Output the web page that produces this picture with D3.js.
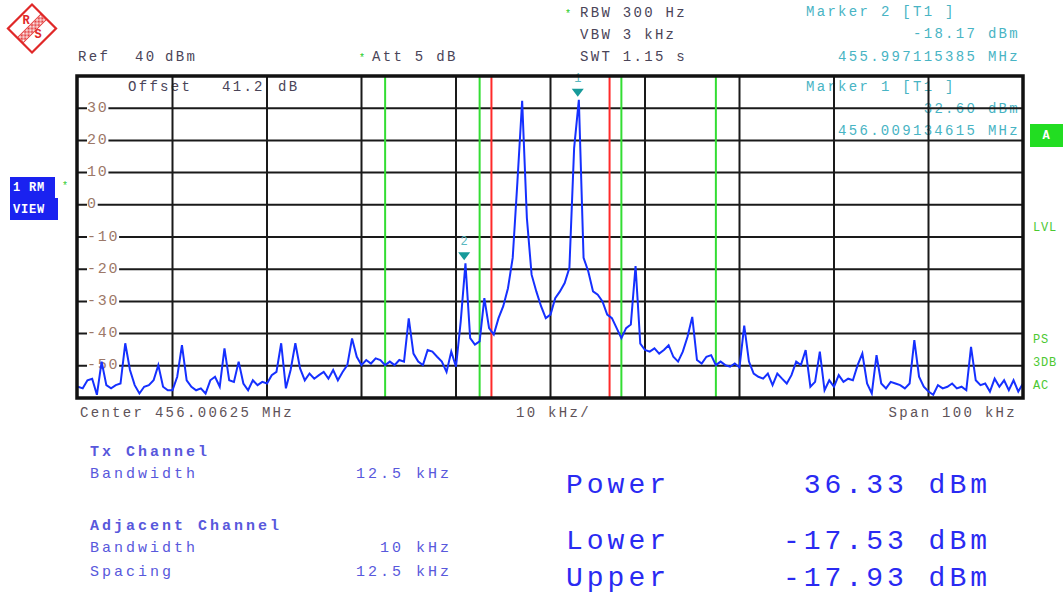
<!DOCTYPE html>
<html>
<head>
<meta charset="utf-8">
<script src="https://cdn.jsdelivr.net/npm/d3@7/dist/d3.min.js"></script>
<style>
  html, body { margin: 0; padding: 0; background: #fff; }
  svg { display: block; }
  text { font-family: "Liberation Mono", "DejaVu Sans Mono", monospace; }
</style>
</head>
<body>
<svg id="chart" width="1063" height="594"></svg>
<script>
// ---- Instrument settings ----
const centerMHz = 456.00625;
const spanKHz = 100;
const refLevel = 40;          // dBm, top of screen
const bottomLevel = -60;      // dBm, bottom of screen
const traceStepKHz = 0.5;     // spacing of trace points

// Channel power setup (kHz)
const txBandwidth = 12.5;
const adjBandwidth = 10;
const adjSpacing = 12.5;

// Level axis labels (dBm)
const yTickValues = [30, 20, 10, 0, -10, -20, -30, -40, -50];

// Trace 1, dBm, from center - 50 kHz to center + 50 kHz
const traceDbm = [
  -56.5, -57, -54.5, -54, -59, -48.7, -56, -57, -56, -55.5,
  -43, -51.3, -56, -58.6, -56.5, -56, -54.5, -49.8, -56.5, -57.6,
  -57.6, -53.4, -43.6, -54.5, -56.5, -57.6, -57, -58.6, -54.5, -53.4,
  -56.5, -44.6, -54.5, -55, -48.7, -55.5, -57.6, -54.5, -56, -55,
  -55.5, -52.9, -51.9, -43, -57, -51.3, -43, -50.8, -54.5, -52.4,
  -54, -52.9, -51.9, -54, -51.3, -54.5, -51.9, -49.8, -41.5, -47.2,
  -49.8, -48.2, -49.3, -47.7, -48.2, -49.8, -48.7, -49.8, -48.2, -48.7,
  -35.3, -46.2, -48.7, -49.8, -45.1, -45.6, -47.2, -48.7, -51.9, -45.6,
  -50.3, -36.2, -18.2, -41.4, -43.4, -42.4, -29, -38.3, -40.3, -35.2,
  -31.5, -25.9, -16.5, 7.2, 32.3, -4.1, -21.7, -26.9, -31.5, -35.2,
  -34.1, -29, -26.9, -24.3, -19.6, 17.6, 32.6, -16.5, -20.7, -26.9,
  -27.9, -30, -34.1, -35.2, -38.3, -41.4, -38.3, -37.2, -19, -43.1,
  -45.1, -45.6, -44.6, -46.2, -45.1, -43.6, -47.2, -48.7, -45.6, -41,
  -34.8, -48.2, -49.3, -47.2, -46.7, -49.8, -48.7, -49.8, -50.3, -49.3,
  -50.5, -37.5, -48.7, -52.4, -53.4, -54, -52.4, -56, -52.4, -54,
  -55.5, -52.9, -48.7, -49.8, -45.1, -56.5, -55, -45.6, -57.6, -54.5,
  -56.5, -52.9, -55, -54, -54.5, -49.8, -46.2, -55.5, -58.6, -46.7,
  -55.5, -57, -55, -55.5, -56, -57, -55.5, -42, -53.4, -56.5,
  -58, -59, -56, -57, -56.5, -55.5, -57, -56.5, -57.6, -44.1,
  -54.5, -56, -55.5, -58, -54, -56.5, -54.5, -57.6, -54.5, -58,
  -55.5
];

// Markers on trace 1
const markerIds = [1, 2];
const markerFreqMHz = [456.009134615, 455.997115385];
const markerLevels = [32.60, -18.17];

// Channel power results
const resultNames = ["Power", "Lower", "Upper"];
const resultValues = ["36.33 dBm", "-17.53 dBm", "-17.93 dBm"];

// ---- Drawing ----
const svg = d3.select("#chart");
const plot = { left: 78, right: 1023, top: 76, bottom: 398 };

const x = d3.scaleLinear().domain([-spanKHz / 2, spanKHz / 2]).range([plot.left, plot.right]);
const y = d3.scaleLinear().domain([bottomLevel, refLevel]).range([plot.bottom, plot.top]);

const txt = (sel, px, py, str, o = {}) => sel.append("text")
  .attr("x", px).attr("y", py)
  .attr("dominant-baseline", "central")
  .attr("text-anchor", o.anchor || "start")
  .attr("font-size", o.size || 14)
  .attr("letter-spacing", o.ls != null ? o.ls : 2.3)
  .attr("font-weight", o.weight || "normal")
  .attr("fill", o.fill || "#4a4458")
  .text(str);

svg.append("rect").attr("width", 1063).attr("height", 594).attr("fill", "#fff");

// Rohde & Schwarz logo
const defs = svg.append("defs");
const pat = defs.append("pattern").attr("id", "hatch").attr("patternUnits", "userSpaceOnUse")
  .attr("width", 2).attr("height", 2);
pat.append("rect").attr("width", 1).attr("height", 1).attr("fill", "#e02828");
pat.append("rect").attr("x", 1).attr("y", 1).attr("width", 1).attr("height", 1).attr("fill", "#e02828");
const logo = svg.append("g").attr("transform", "translate(32,28.5) rotate(-45)");
logo.append("rect").attr("x", -17).attr("y", -17).attr("width", 34).attr("height", 34)
  .attr("fill", "none").attr("stroke", "#e02828").attr("stroke-width", 2.2);
logo.append("rect").attr("x", -17).attr("y", -4).attr("width", 34).attr("height", 8)
  .attr("fill", "url(#hatch)").attr("stroke", "#e02828").attr("stroke-width", 0.8);
svg.append("text").attr("x", 26).attr("y", 21).attr("text-anchor", "middle").attr("dominant-baseline", "central")
  .attr("font-family", "DejaVu Sans").attr("font-size", 12).attr("font-weight", "bold").attr("fill", "#e02828").text("R");
svg.append("text").attr("x", 38).attr("y", 35).attr("text-anchor", "middle").attr("dominant-baseline", "central")
  .attr("font-family", "DejaVu Sans").attr("font-size", 12).attr("font-weight", "bold").attr("fill", "#e02828").text("S");

// Header settings
const hdr = "#4a4458";
txt(svg, 78, 57, "Ref", { fill: hdr });
txt(svg, 135, 57, "40", { fill: hdr });
txt(svg, 165, 57, "dBm", { fill: hdr });
txt(svg, 362, 58, "*", { fill: "#22cc22", size: 10, ls: 0, anchor: "middle" });
txt(svg, 372, 57, "Att  5 dB", { fill: hdr });
txt(svg, 568, 14, "*", { fill: "#22cc22", size: 10, ls: 0, anchor: "middle" });
txt(svg, 580, 13, "RBW 300 Hz", { fill: hdr });
txt(svg, 580, 35, "VBW 3 kHz", { fill: hdr });
txt(svg, 580, 57, "SWT 1.15 s", { fill: hdr });

// Marker readouts
const mk = "#48b4c4";
txt(svg, 806, 12, "Marker 2 [T1 ]", { fill: mk });
txt(svg, 1020, 34, markerLevels[1].toFixed(2) + " dBm", { fill: mk, anchor: "end" });
txt(svg, 1020, 57, markerFreqMHz[1].toFixed(9) + " MHz", { fill: mk, anchor: "end" });
txt(svg, 806, 87, "Marker 1 [T1 ]", { fill: mk });
txt(svg, 1020, 109, markerLevels[0].toFixed(2) + " dBm", { fill: mk, anchor: "end" });
txt(svg, 1020, 131, markerFreqMHz[0].toFixed(9) + " MHz", { fill: mk, anchor: "end" });

// Offset annotation inside the screen
txt(svg, 128, 87, "Offset", { fill: hdr });
txt(svg, 222, 87, "41.2", { fill: hdr });
txt(svg, 278, 87, "dB", { fill: hdr });

// Grid
const gridX = d3.range(-spanKHz / 2 + 10, spanKHz / 2, 10);
svg.append("g").selectAll("line.v").data(gridX).join("line")
  .attr("x1", d => x(d)).attr("x2", d => x(d))
  .attr("y1", plot.top).attr("y2", plot.bottom)
  .attr("stroke", "#1a1a1a").attr("stroke-width", 2);
const gridY = svg.append("g");
gridY.selectAll("line").data(yTickValues).join("line")
  .attr("x1", plot.left).attr("x2", plot.right)
  .attr("y1", d => y(d)).attr("y2", d => y(d))
  .attr("stroke", "#1a1a1a").attr("stroke-width", 2);

// Level labels sit on their grid lines
const yl = svg.append("g");
yTickValues.forEach(v => {
  const s = String(v);
  const w = s.length * 10.7;
  yl.append("rect").attr("x", 87).attr("y", y(v) - 6).attr("width", w).attr("height", 12).attr("fill", "#fff");
  txt(yl, 87, y(v), s, { fill: "#9c7868", size: 15, ls: 1.7 });
});

// Channel limits: Tx channel (red) and adjacent channels (green)
const txEdges = [-txBandwidth / 2, txBandwidth / 2];
const adjEdges = [
  -adjSpacing - adjBandwidth / 2, -adjSpacing + adjBandwidth / 2,
  adjSpacing - adjBandwidth / 2, adjSpacing + adjBandwidth / 2
];
svg.append("g").selectAll("line").data(adjEdges).join("line")
  .attr("x1", d => x(d)).attr("x2", d => x(d)).attr("y1", plot.top).attr("y2", plot.bottom)
  .attr("stroke", "#33dd33").attr("stroke-width", 2);
svg.append("g").selectAll("line").data(txEdges).join("line")
  .attr("x1", d => x(d)).attr("x2", d => x(d)).attr("y1", plot.top).attr("y2", plot.bottom)
  .attr("stroke", "#ff2a2a").attr("stroke-width", 2);

// Trace
const traceData = traceDbm.map((v, i) => ({ f: -spanKHz / 2 + i * traceStepKHz, v }));
svg.append("path").datum(traceData)
  .attr("fill", "none").attr("stroke", "#1530ff").attr("stroke-width", 2)
  .attr("stroke-linejoin", "miter")
  .attr("d", d3.line().x(d => x(d.f)).y(d => y(d.v)));

// Markers
markerIds.forEach((id, k) => {
  const mx = x((markerFreqMHz[k] - centerMHz) * 1000);
  const my = y(markerLevels[k]);
  svg.append("path")
    .attr("d", d3.line()([[mx - 6, my - 11], [mx + 6, my - 11], [mx, my - 3]]) + "Z")
    .attr("fill", "#179a9a");
  txt(svg, mx, my - 21, String(id), { fill: "#5ab8c0", size: 12, ls: 0, anchor: "middle" });
});

// Screen frame
svg.append("rect").attr("x", plot.left - 1).attr("y", plot.top)
  .attr("width", plot.right - plot.left + 1).attr("height", plot.bottom - plot.top)
  .attr("fill", "none").attr("stroke", "#111").attr("stroke-width", 3.5);

// Frequency axis annotations
txt(svg, 80, 413, "Center " + centerMHz.toFixed(5) + " MHz", { fill: "#5e5258" });
txt(svg, 516, 413, (spanKHz / 10) + " kHz/", { fill: "#5e5258" });
txt(svg, 1017, 413, "Span " + spanKHz + " kHz", { fill: "#5e5258", anchor: "end" });

// Side annotations
svg.append("rect").attr("x", 10).attr("y", 177).attr("width", 45).attr("height", 22).attr("fill", "#1a22f0");
svg.append("rect").attr("x", 10).attr("y", 198).attr("width", 48).attr("height", 22).attr("fill", "#1a22f0");
txt(svg, 13, 188, "1 RM", { fill: "#fff", size: 12, ls: 0.8, weight: "bold" });
txt(svg, 13, 210, "VIEW", { fill: "#fff", size: 12, ls: 0.8, weight: "bold" });
txt(svg, 65, 186, "*", { fill: "#33cc33", size: 10, ls: 0, anchor: "middle" });

svg.append("rect").attr("x", 1030).attr("y", 124).attr("width", 33).attr("height", 23).attr("fill", "#22dd22");
txt(svg, 1046, 136, "A", { fill: "#fff", size: 12, ls: 0, anchor: "middle", weight: "bold" });
const side = "#4cc832";
txt(svg, 1033, 228, "LVL", { fill: side, size: 12, ls: 0.8 });
txt(svg, 1033, 340, "PS", { fill: side, size: 12, ls: 0.8 });
txt(svg, 1033, 363, "3DB", { fill: side, size: 12, ls: 0.8 });
txt(svg, 1033, 386, "AC", { fill: side, size: 12, ls: 0.8 });

// Channel power table
const tbl = "#5858dc";
const opt = { fill: tbl, size: 15, ls: 3 };
txt(svg, 90, 452, "Tx Channel", Object.assign({}, opt, { weight: "bold" }));
txt(svg, 90, 474, "Bandwidth", opt);
txt(svg, 452, 474, txBandwidth + " kHz", Object.assign({}, opt, { anchor: "end" }));
txt(svg, 90, 526, "Adjacent Channel", Object.assign({}, opt, { weight: "bold" }));
txt(svg, 90, 548, "Bandwidth", opt);
txt(svg, 452, 548, adjBandwidth + " kHz", Object.assign({}, opt, { anchor: "end" }));
txt(svg, 90, 572, "Spacing", opt);
txt(svg, 452, 572, adjSpacing + " kHz", Object.assign({}, opt, { anchor: "end" }));

const big = { fill: "#2a2af2", size: 28, ls: 4 };
const resY = [485, 541, 578];
resultNames.forEach((n, k) => {
  txt(svg, 566, resY[k], n, big);
  txt(svg, 991, resY[k], resultValues[k], Object.assign({}, big, { anchor: "end" }));
});
</script>
</body>
</html>
